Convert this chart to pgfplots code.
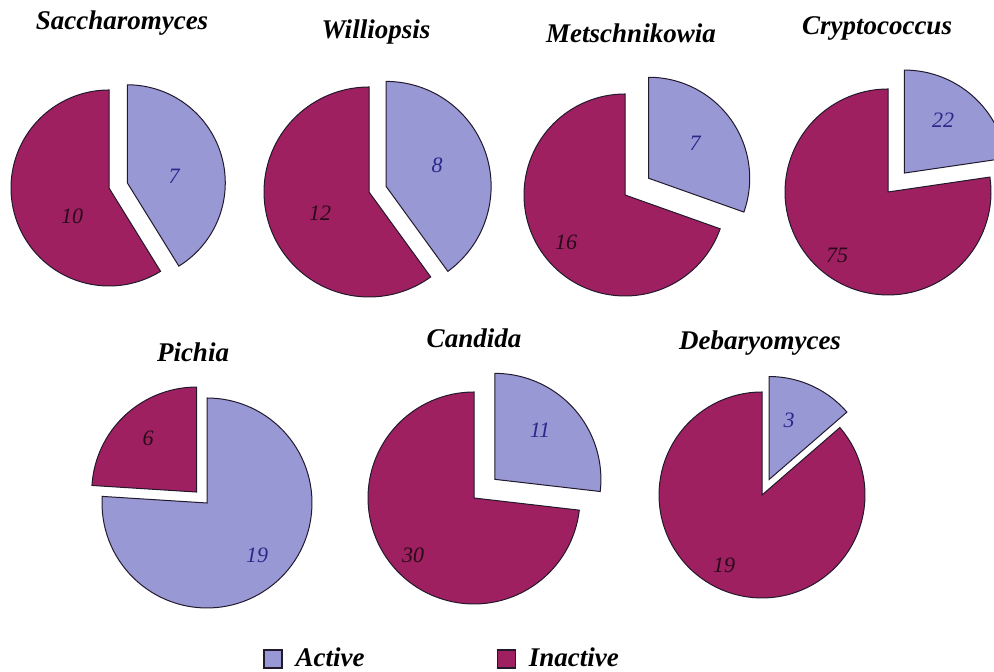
\documentclass[border=0pt]{standalone}
\usepackage{fontspec}
\setmainfont{Liberation Serif}
\usepackage{pgfplots}
\pgfplotsset{compat=1.18}
\definecolor{actcol}{RGB}{152,152,212}
\definecolor{inacol}{RGB}{158,32,96}
\definecolor{edgecol}{RGB}{35,25,45}
\definecolor{actlab}{RGB}{40,40,140}
\definecolor{inalab}{RGB}{40,10,25}

% one slice: cx, cy, r, start angle, end angle, explode distance, colour
\newcommand\slice[7]{%
 \pgfmathsetmacro\slX{#1+#6*cos((#4+#5)/2)}%
 \pgfmathsetmacro\slY{#2+#6*sin((#4+#5)/2)}%
 \edef\doslice{\noexpand\addplot[forget plot, fill=#7, draw=edgecol, line width=0.5pt, domain=#4:#5, samples=90] ({\slX+#3*cos(x)},{\slY+#3*sin(x)}) -- (axis cs:\slX,\slY) -- cycle;}%
 \doslice}

% one pie: cx, cy (from top), r, active, inactive, explode active, explode inactive
\newcommand\pie[7]{%
 \pgfmathsetmacro\pieAl{360*#4/(#4+#5)}%
 \pgfmathsetmacro\pieA{90-\pieAl}%
 \pgfmathsetmacro\pieI{450-\pieAl}%
 \pgfmathsetmacro\pieY{672-#2}%
 \slice{#1}{\pieY}{#3}{\pieA}{90}{#6}{actcol}%
 \slice{#1}{\pieY}{#3}{90}{\pieI}{#7}{inacol}%
}

\begin{document}
\begin{tikzpicture}
\begin{axis}[
  scale only axis, width=497pt, height=336pt,
  xmin=0, xmax=994, ymin=0, ymax=672,
  hide axis, clip=true,
  legend columns=2,
  legend cell align=left,
  legend image code/.code={\draw[#1,line width=0.6pt] (0pt,-4.5pt) rectangle (9pt,4.5pt);},
  legend style={at={(0.2646,0.0193)}, anchor=west, draw=none, fill=none, inner sep=0pt,
    font=\fontsize{13.5}{16}\selectfont\bfseries\itshape,
    /tikz/every odd column/.append style={column sep=4.5pt},
    /tikz/every even column/.append style={column sep=64pt}},
]
% centre x, centre y, radius, active, inactive, explode
\pie{109}{188}{98}{7}{10}{19}{0}   % Saccharomyces
\pie{369}{192}{105}{8}{12}{18}{0}  % Williopsis
\pie{625}{195}{101}{7}{16}{29}{0}  % Metschnikowia
\pie{888}{192}{103}{22}{75}{25}{0} % Cryptococcus
\pie{207}{503}{105}{19}{6}{0}{15}  % Pichia
\pie{474}{498}{106}{11}{30}{28}{0} % Candida
\pie{762}{495}{103}{3}{19}{17}{0}  % Debaryomyces

\addlegendimage{fill=actcol, draw=edgecol}
\addlegendentry{Active}
\addlegendimage{fill=inacol, draw=edgecol}
\addlegendentry{Inactive}

\begin{scope}[every node/.style={font=\fontsize{13.5}{16}\selectfont\bfseries\itshape}]
\node at (axis cs:122,649) {Saccharomyces};
\node at (axis cs:376,640) {Williopsis};
\node at (axis cs:631,639) {Metschnikowia};
\node at (axis cs:877,644) {Cryptococcus};
\node at (axis cs:193,320) {Pichia};
\node at (axis cs:474,334) {Candida};
\node at (axis cs:760,329) {Debaryomyces};
\end{scope}

\begin{scope}[every node/.style={font=\fontsize{11}{13}\selectfont\itshape}]
\node[text=inalab] at (axis cs:72,456) {10};
\node[text=actlab] at (axis cs:174,496) {7};
\node[text=inalab] at (axis cs:320,459) {12};
\node[text=actlab] at (axis cs:437,507) {8};
\node[text=actlab] at (axis cs:695,529) {7};
\node[text=inalab] at (axis cs:566,430) {16};
\node[text=actlab] at (axis cs:943,552) {22};
\node[text=inalab] at (axis cs:837,417) {75};
\node[text=inalab] at (axis cs:148,234) {6};
\node[text=actlab] at (axis cs:257,117) {19};
\node[text=actlab] at (axis cs:540,242) {11};
\node[text=inalab] at (axis cs:413,117) {30};
\node[text=actlab] at (axis cs:789,252) {3};
\node[text=inalab] at (axis cs:724,107) {19};
\end{scope}

\coordinate (LL) at (rel axis cs:0,0);
\coordinate (UR) at (rel axis cs:1,1);
\end{axis}
\pgfresetboundingbox
\path (LL) rectangle (UR);
\end{tikzpicture}
\end{document}
